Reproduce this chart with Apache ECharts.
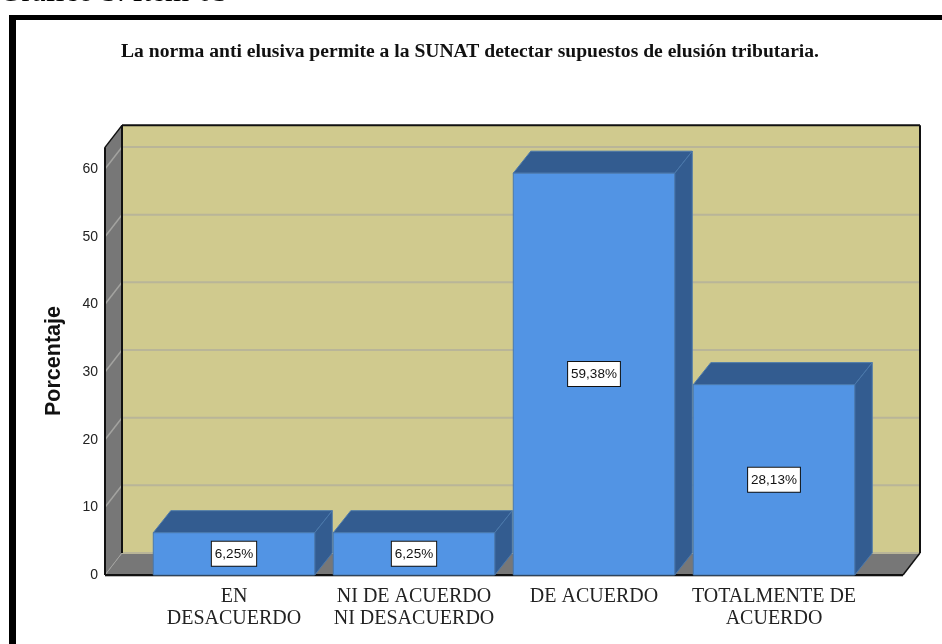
<!DOCTYPE html>
<html>
<head>
<meta charset="utf-8">
<style>html,body{margin:0;padding:0;background:#fff}#c{width:942px;height:644px}</style>
<script src="https://cdn.jsdelivr.net/npm/echarts@6/dist/echarts.min.js"></script>
</head>
<body>
<div id="c"></div>
<script>
var categories = ['EN\nDESACUERDO', 'NI DE ACUERDO\nNI DESACUERDO', 'DE ACUERDO', 'TOTALMENTE DE\nACUERDO'];
var values = [6.25, 6.25, 59.38, 28.13];
var valueLabels = ['6,25%', '6,25%', '59,38%', '28,13%'];
var yTicks = [0, 10, 20, 30, 40, 50, 60];
var wallTop = 63.2;
var chartTitle = 'La norma anti elusiva permite a la SUNAT detectar supuestos de elusión tributaria.';
var heading = 'Gráfico 5. Ítem 05';

var DX = 17, DY = 22, LEFT_EXT = 39, RIGHT_EXT = 39;
var C = { wall: '#D0CA8E', side: '#777777', grid: '#B9B598', sideGrid: '#A3A3A0', front: '#5294E4', dark: '#335C90', edge: '#4A78AC' };
function poly(pts, fill, stroke, w) {
  return { type: 'polygon', shape: { points: pts }, style: { fill: fill, stroke: stroke || null, lineWidth: w || 0 } };
}
function line(a, b, color, w) {
  return { type: 'line', shape: { x1: a[0], y1: a[1], x2: b[0], y2: b[1] }, style: { stroke: color, lineWidth: w } };
}
function renderRoom(params, api) {
  var cs = params.coordSys;
  var x0 = cs.x - LEFT_EXT, x1 = cs.x + cs.width + RIGHT_EXT;
  var yb = api.coord([0, 0])[1], yt = api.coord([0, wallTop])[1];
  var ch = [];
  ch.push(poly([[x0 + DX, yt - DY], [x1 + DX, yt - DY], [x1 + DX, yb - DY], [x0 + DX, yb - DY]], C.wall));
  ch.push(poly([[x0, yt], [x0 + DX, yt - DY], [x0 + DX, yb - DY], [x0, yb]], C.side));
  ch.push(poly([[x0, yb], [x0 + DX, yb - DY], [x1 + DX, yb - DY], [x1, yb]], C.side));
  yTicks.forEach(function (t) {
    if (t === 0) return;
    var y = api.coord([0, t])[1];
    ch.push(line([x0 + DX, y - DY], [x1 + DX, y - DY], C.grid, 2));
    ch.push(line([x0, y], [x0 + DX, y - DY], C.sideGrid, 1.5));
  });
  ch.push(line([x0 + DX, yb - DY], [x1 + DX, yb - DY], '#B9B598', 2));
  ch.push(line([x0, yb], [x0 + DX, yb - DY], '#A3A3A0', 1));
  ch.push(line([x0 + DX, yt - DY], [x1 + DX, yt - DY], '#111', 2));
  ch.push(line([x0 + DX, yt - DY], [x0 + DX, yb - DY], '#111', 2));
  ch.push(line([x1 + DX, yt - DY], [x1 + DX, yb - DY], '#111', 2));
  ch.push(line([x0, yt], [x0 + DX, yt - DY], '#111', 1.5));
  ch.push(line([x0, yt], [x0, yb], '#111', 2));
  ch.push(line([x1, yb], [x1 + DX, yb - DY], '#111', 1.5));
  ch.push(line([x0, yb], [x1, yb], '#111', 2));
  ch.push(line([x0, yb + 1.5], [x1, yb + 1.5], '#BBBBBB', 1));
  return { type: 'group', silent: true, children: ch };
}
function renderBar(params, api) {
  var i = api.value(0), v = api.value(1);
  var p = api.coord([i, v]), b = api.coord([i, 0]);
  var w = api.size([1, 0])[0] * 0.897;
  var l = p[0] - w / 2, r = p[0] + w / 2, t = p[1], bo = b[1];
  return {
    type: 'group',
    children: [
      poly([[l, t], [l + DX + 0.5, t - DY], [r + DX + 0.5, t - DY], [r, t]], C.dark, C.edge, 1),
      poly([[r, t], [r + DX + 0.5, t - DY], [r + DX + 0.5, bo - DY], [r, bo]], C.dark, C.edge, 1),
      { type: 'rect', shape: { x: l, y: t, width: w, height: bo - t }, style: { fill: C.front, stroke: C.edge, lineWidth: 1 } },
      {
        type: 'text', x: p[0], y: (t + bo) / 2,
        style: {
          text: valueLabels[params.dataIndex], align: 'center', verticalAlign: 'middle',
          font: '13.5px "Liberation Sans"', fill: '#111',
          backgroundColor: '#fff', borderColor: '#111', borderWidth: 1, padding: [5, 3, 5, 3]
        }
      }
    ]
  };
}
var chart = echarts.init(document.getElementById('c'), null, { renderer: 'canvas' });
chart.setOption({
  animation: false,
  backgroundColor: '#fff',
  title: {
    text: chartTitle, left: 465, top: 37, textAlign: 'center',
    textStyle: { fontFamily: 'Liberation Serif', fontWeight: 'bold', fontSize: 19.6, color: '#111' }
  },
  grid: { left: 144, width: 720, top: 169, height: 406, containLabel: false },
  xAxis: {
    type: 'category', data: categories,
    axisLine: { show: false }, axisTick: { show: false },
    axisLabel: { interval: 0, margin: 11, lineHeight: 22, fontFamily: 'Liberation Serif', fontSize: 20, color: '#222', verticalAlign: 'top' }
  },
  yAxis: {
    type: 'value', min: 0, max: 60, interval: 10,
    name: 'Porcentaje', nameLocation: 'middle', nameGap: 79, nameRotate: 90,
    nameTextStyle: { fontFamily: 'Liberation Sans', fontWeight: 'bold', fontSize: 21.5, color: '#111', padding: [0, 0, 0, 22] },
    axisLine: { show: false }, axisTick: { show: false }, splitLine: { show: false },
    axisLabel: { margin: 46, fontFamily: 'Liberation Sans', fontSize: 14, color: '#222', padding: [5, 0, 0, 0] }
  },
  series: [
    { type: 'custom', coordinateSystem: 'cartesian2d', clip: false, z: 1, silent: true, renderItem: renderRoom, data: [[0, 0]], encode: { x: 0, y: 1 } },
    { type: 'custom', coordinateSystem: 'cartesian2d', clip: false, z: 2, renderItem: renderBar, data: values.map(function (v, i) { return [i, v]; }), encode: { x: 0, y: 1 } }
  ],
  graphic: [
    { type: 'text', z: 10, x: -1, y: 8, style: { text: heading, font: '31px "Liberation Serif"', fill: '#000', verticalAlign: 'bottom', align: 'left' } },
    { type: 'rect', z: 10, silent: true, shape: { x: 9, y: 15, width: 933, height: 5 }, style: { fill: '#000' } },
    { type: 'rect', z: 10, silent: true, shape: { x: 9, y: 15, width: 7, height: 629 }, style: { fill: '#000' } }
  ]
});
</script>
</body>
</html>
